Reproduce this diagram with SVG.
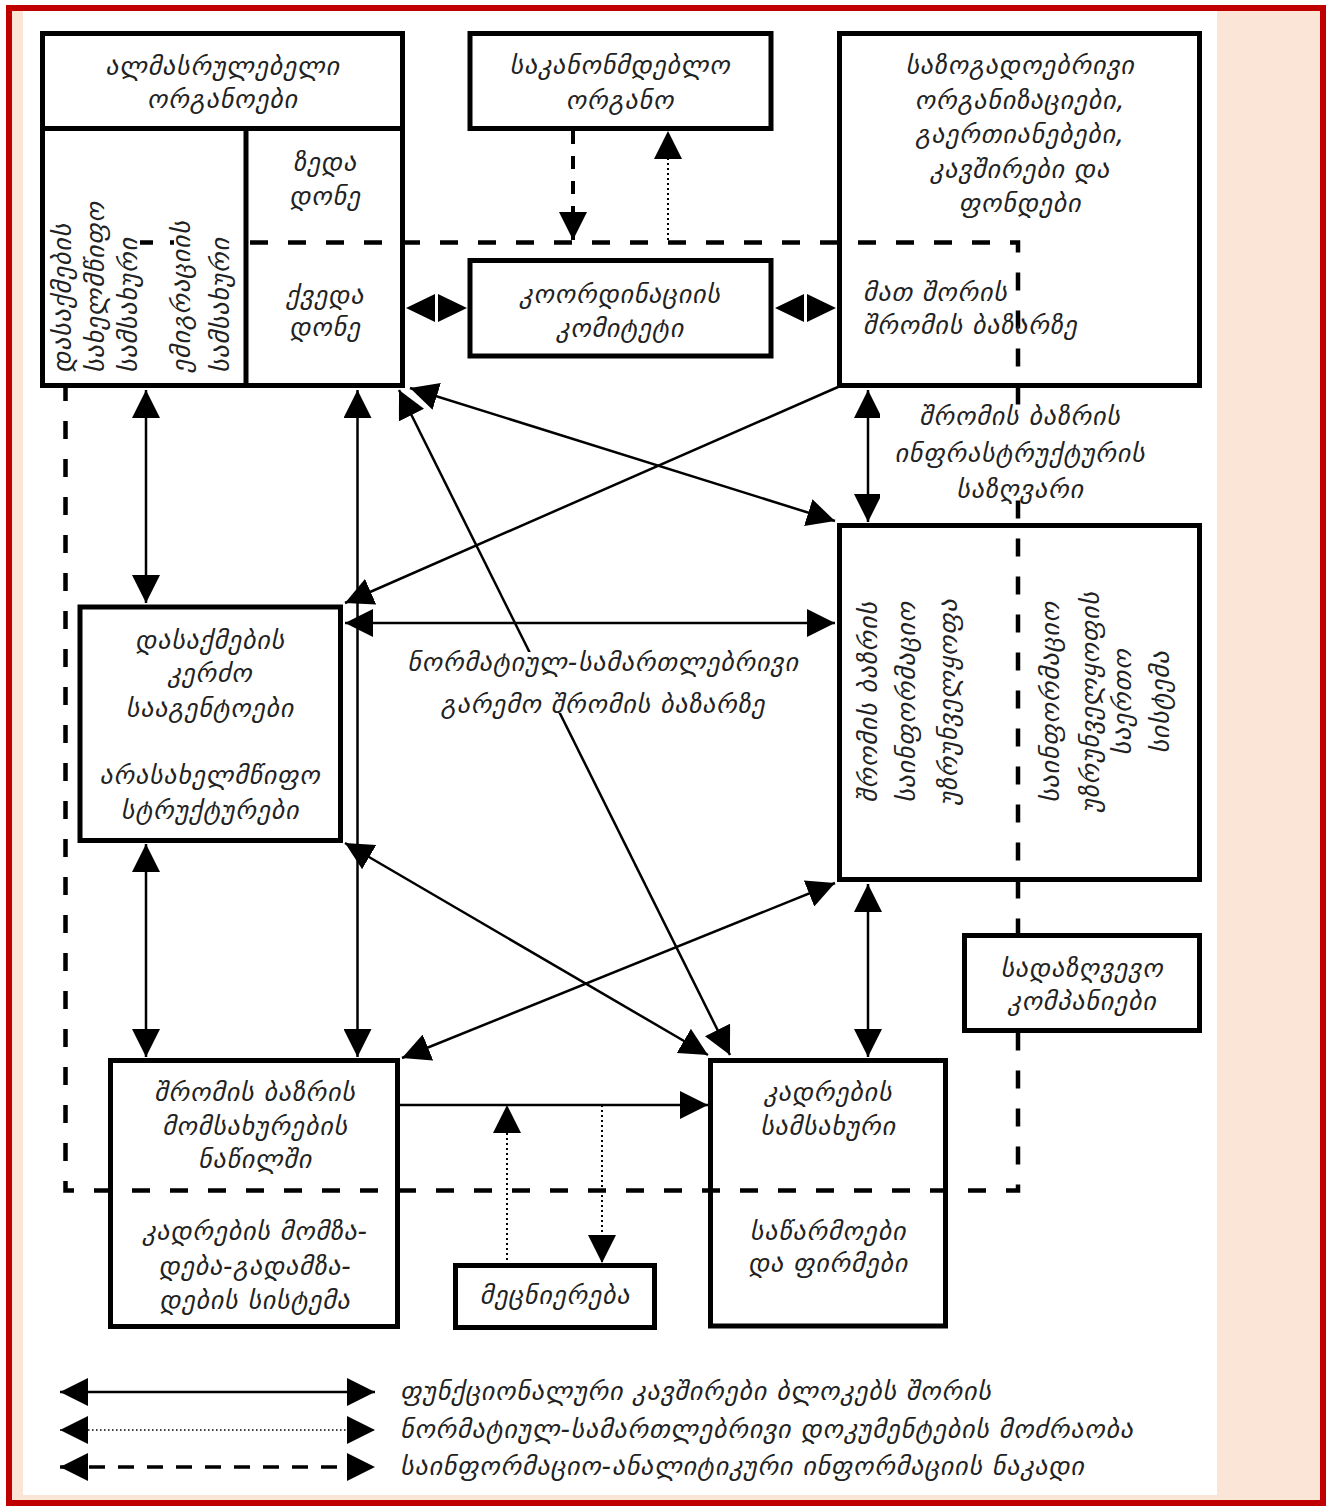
<svg xmlns="http://www.w3.org/2000/svg" width="1327" height="1506" viewBox="0 0 1327 1506">
<defs>
<style>
.box{fill:none;stroke:#000;stroke-width:5}
.boxw{fill:#fff;stroke:#000;stroke-width:5}
.t{font-family:"DejaVu Sans",sans-serif;font-style:italic;font-size:26px;letter-spacing:0.8px;fill:#222;text-anchor:middle}
.ts{font-family:"DejaVu Sans",sans-serif;font-style:italic;font-size:26px;letter-spacing:0.8px;fill:#222;text-anchor:start}
.c{fill:none;stroke:#000;stroke-width:2.5}
.dot{fill:none;stroke:#000;stroke-width:2;stroke-dasharray:2 3}
.dsh{fill:none;stroke:#000;stroke-width:4;stroke-dasharray:13 12}
.bound{fill:none;stroke:#000;stroke-width:4.5;stroke-dasharray:18 20}
</style>
<marker id="ah" viewBox="0 0 28 28" refX="28" refY="14" markerWidth="28" markerHeight="28" markerUnits="userSpaceOnUse" orient="auto-start-reverse"><path d="M0,0 L28,14 L0,28 z" fill="#000"/></marker>
</defs>

<g id="frame">
<rect x="0" y="0" width="1327" height="1506" fill="#fff"/>
<rect x="6" y="5" width="1320" height="1501" fill="#c00000"/>
<rect x="12" y="11" width="1308" height="1489" fill="#fbe5d6"/>
<rect x="23" y="11" width="1194" height="1484" fill="#fff"/>
</g>

<g id="boundary">
<path class="bound" d="M250,242.5 H1018 V1190.5 H65.5 V388"/>
<path d="M140,242.5 H153 M170,242.5 H174" stroke="#000" stroke-width="4.5" fill="none"/>
</g>

<g id="connectors">
<line class="c" x1="146" y1="390" x2="146" y2="603" marker-start="url(#ah)" marker-end="url(#ah)"/>
<line class="c" x1="357.5" y1="390" x2="357.5" y2="1057" marker-start="url(#ah)" marker-end="url(#ah)"/>
<line class="c" x1="146" y1="844" x2="146" y2="1057" marker-start="url(#ah)" marker-end="url(#ah)"/>
<line class="c" x1="868" y1="390" x2="868" y2="522" marker-start="url(#ah)" marker-end="url(#ah)"/>
<line class="c" x1="868" y1="884" x2="868" y2="1057" marker-start="url(#ah)" marker-end="url(#ah)"/>
<line class="c" x1="345" y1="623" x2="835" y2="623" marker-start="url(#ah)" marker-end="url(#ah)"/>
<line class="c" x1="838" y1="387" x2="345" y2="603" marker-end="url(#ah)"/>
<line class="c" x1="410" y1="388" x2="835" y2="521" marker-start="url(#ah)" marker-end="url(#ah)"/>
<line class="c" x1="399" y1="390" x2="730" y2="1055" marker-start="url(#ah)" marker-end="url(#ah)"/>
<line class="c" x1="345" y1="843" x2="708" y2="1055" marker-start="url(#ah)" marker-end="url(#ah)"/>
<line class="c" x1="402" y1="1058" x2="835" y2="883" marker-start="url(#ah)" marker-end="url(#ah)"/>
<line class="c" x1="400" y1="1105" x2="708" y2="1105" marker-end="url(#ah)"/>
<line class="dot" x1="507" y1="1265" x2="507" y2="1105" marker-end="url(#ah)"/>
<line class="dot" x1="602" y1="1105" x2="602" y2="1263" marker-end="url(#ah)"/>
<line class="dsh" x1="573" y1="131" x2="573" y2="240" marker-end="url(#ah)"/>
<line class="dot" x1="668" y1="240" x2="668" y2="131" marker-end="url(#ah)"/>
<path d="M406,308 L435,294 L435,322 z M467,308 L438,294 L438,322 z" fill="#000"/>
<path d="M775,308 L804,294 L804,322 z M836,308 L807,294 L807,322 z" fill="#000"/>
</g>

<g id="label-normative">
<rect x="405" y="652" width="395" height="61" fill="#fff"/>
<text class="t" x="603" y="671">ნორმატიულ-სამართლებრივი</text>
<text class="t" x="603" y="713">გარემო შრომის ბაზარზე</text>
</g>

<g id="label-infrastructure">
<rect x="880" y="405" width="280" height="95" fill="#fff"/>
<text class="t" x="1020" y="425">შრომის ბაზრის</text>
<text class="t" x="1020" y="462">ინფრასტრუქტურის</text>
<text class="t" x="1020" y="498">საზღვარი</text>
</g>

<g id="executive">
<rect class="box" x="42.5" y="33.5" width="360" height="352"/>
<line x1="42.5" y1="128.5" x2="402.5" y2="128.5" stroke="#000" stroke-width="5"/>
<line x1="246" y1="128.5" x2="246" y2="385.5" stroke="#000" stroke-width="5"/>
<text class="t" x="222.5" y="75">ალმასრულებელი</text>
<text class="t" x="222.5" y="108">ორგანოები</text>
<text class="t" x="325" y="171">ზედა</text>
<text class="t" x="325" y="205">დონე</text>
<text class="t" x="325" y="304">ქვედა</text>
<text class="t" x="325" y="336">დონე</text>
<text class="ts" transform="translate(71,373) rotate(-90)">დასაქმების</text>
<text class="ts" transform="translate(104,373) rotate(-90)">სახელმწიფო</text>
<text class="ts" transform="translate(137,373) rotate(-90)">სამსახური</text>
<text class="ts" transform="translate(190,373) rotate(-90)">ემიგრაციის</text>
<text class="ts" transform="translate(229,373) rotate(-90)">სამსახური</text>
</g>

<g id="legislative">
<rect class="box" x="470" y="33.5" width="301" height="95"/>
<text class="t" x="620" y="73.5">საკანონმდებლო</text>
<text class="t" x="620" y="109">ორგანო</text>
</g>

<g id="coordination">
<rect class="box" x="470" y="260.5" width="301" height="95.5"/>
<text class="t" x="620" y="303">კოორდინაციის</text>
<text class="t" x="620" y="337">კომიტეტი</text>
</g>

<g id="public-orgs">
<rect class="box" x="839.5" y="33.5" width="360" height="352"/>
<text class="t" x="1020" y="74">საზოგადოებრივი</text>
<text class="t" x="1020" y="108.5">ორგანიზაციები,</text>
<text class="t" x="1020" y="143">გაერთიანებები,</text>
<text class="t" x="1020" y="177.5">კავშირები და</text>
<text class="t" x="1020" y="212">ფონდები</text>
<text class="ts" x="863" y="301">მათ შორის</text>
<text class="ts" x="863" y="334">შრომის ბაზარზე</text>
</g>

<g id="private-agencies">
<rect class="box" x="80" y="607" width="260.5" height="233.5"/>
<text class="t" x="210" y="649">დასაქმების</text>
<text class="t" x="210" y="682">კერძო</text>
<text class="t" x="210" y="717">სააგენტოები</text>
<text class="t" x="210" y="784">არასახელმწიფო</text>
<text class="t" x="210" y="819">სტრუქტურები</text>
</g>

<g id="info-support">
<rect class="box" x="839.5" y="525.5" width="360" height="354"/>
<text class="t" transform="translate(877,702) rotate(-90)">შრომის ბაზრის</text>
<text class="t" transform="translate(915,702) rotate(-90)">საინფორმაციო</text>
<text class="t" transform="translate(957,702) rotate(-90)">უზრუნველყოფა</text>
<text class="t" transform="translate(1059,702) rotate(-90)">საინფორმაციო</text>
<text class="t" transform="translate(1099,702) rotate(-90)">უზრუნველყოფის</text>
<text class="t" transform="translate(1131,702) rotate(-90)">საერთო</text>
<text class="t" transform="translate(1169,702) rotate(-90)">სისტემა</text>
</g>

<g id="insurance">
<rect class="boxw" x="964.5" y="935.5" width="235" height="95"/>
<text class="t" x="1082" y="977">სადაზღვევო</text>
<text class="t" x="1082" y="1010">კომპანიები</text>
</g>

<g id="labor-services">
<rect class="box" x="110.5" y="1060.5" width="287" height="266"/>
<text class="t" x="255" y="1101">შრომის ბაზრის</text>
<text class="t" x="255" y="1135">მომსახურების</text>
<text class="t" x="255" y="1168">ნაწილში</text>
<text class="t" x="255" y="1240">კადრების მომზა-</text>
<text class="t" x="255" y="1275">დება-გადამზა-</text>
<text class="t" x="255" y="1309">დების სისტემა</text>
</g>

<g id="personnel">
<rect class="box" x="710.5" y="1060.5" width="235" height="265.5"/>
<text class="t" x="828" y="1101">კადრების</text>
<text class="t" x="828" y="1135">სამსახური</text>
<text class="t" x="828" y="1240">საწარმოები</text>
<text class="t" x="828" y="1272">და ფირმები</text>
</g>

<g id="science">
<rect class="box" x="455.5" y="1265.5" width="199" height="62"/>
<text class="t" x="555" y="1304">მეცნიერება</text>
</g>

<g id="legend">
<line class="c" x1="60" y1="1392" x2="375" y2="1392" marker-start="url(#ah)" marker-end="url(#ah)"/>
<line x1="60" y1="1430" x2="375" y2="1430" stroke="#000" stroke-width="1.5" stroke-dasharray="1.5 2.5" marker-start="url(#ah)" marker-end="url(#ah)"/>
<line x1="60" y1="1467" x2="375" y2="1467" stroke="#000" stroke-width="3.5" stroke-dasharray="16 13" marker-start="url(#ah)" marker-end="url(#ah)"/>
<text class="ts" x="400" y="1400">ფუნქციონალური კავშირები ბლოკებს შორის</text>
<text class="ts" x="400" y="1438">ნორმატიულ-სამართლებრივი დოკუმენტების მოძრაობა</text>
<text class="ts" x="400" y="1475">საინფორმაციო-ანალიტიკური ინფორმაციის ნაკადი</text>
</g>
</svg>
